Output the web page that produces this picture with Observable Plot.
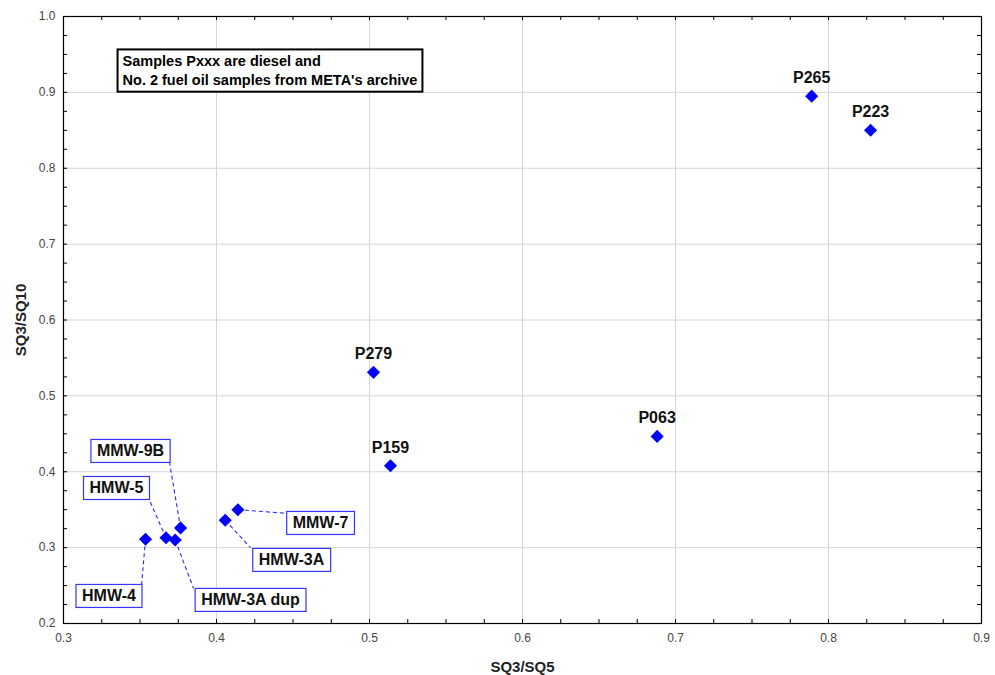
<!DOCTYPE html>
<html><head><meta charset="utf-8">
<script src="https://cdn.jsdelivr.net/npm/d3@7"></script>
<script src="https://cdn.jsdelivr.net/npm/@observablehq/plot@0.6"></script>
<style>body{margin:0;background:#fff;} #chart svg{font-family:"Liberation Sans",Arial,sans-serif;}</style>
</head><body><div id="chart"></div>
<script>
// ---- data ----
const samples = ["P265","P223","P279","P159","P063","HMW-4","HMW-5","HMW-3A dup","MMW-9B","HMW-3A","MMW-7"];
const sq3sq5  = [0.789, 0.8275, 0.5026, 0.5137, 0.688, 0.3536, 0.367, 0.373, 0.3765, 0.4057, 0.414];
const sq3sq10 = [0.895, 0.850, 0.531, 0.408, 0.4466, 0.311, 0.313, 0.310, 0.326, 0.336, 0.350];

// boxed (callout) labels: label anchor and leader end, in data units
const boxedNames  = ["MMW-9B","HMW-5","HMW-4","HMW-3A dup","HMW-3A","MMW-7"];
const boxedLabelX = [0.3438, 0.3346, 0.3297, 0.4222, 0.449, 0.468];
const boxedLabelY = [0.4269, 0.3781, 0.2358, 0.2306, 0.2833, 0.332];
const leaderEndX  = [0.3693, 0.3562, 0.351, 0.385, 0.4222, 0.4458];
const leaderEndY  = [0.4124, 0.3623, 0.2503, 0.2464, 0.300, 0.3452];

const xTicks = [0.3,0.4,0.5,0.6,0.7,0.8,0.9];
const yTicks = [0.2,0.3,0.4,0.5,0.6,0.7,0.8,0.9,1.0];
const xMinor = d3.range(25).map(i => +(0.3 + i*0.025).toFixed(3));
const yMinor = d3.range(33).map(i => +(0.2 + i*0.025).toFixed(3));

const xTitle = "SQ3/SQ5";
const yTitle = "SQ3/SQ10";
const noteText = "Samples Pxxx are diesel and\nNo. 2 fuel oil samples from META's archive";
const noteX = 0.3386, noteY = 0.9513;

// ---- build ----
const W = 995, H = 675, mL = 63, mR = 14, mT = 16, mB = 52;
const xDom = [0.3, 0.9], yDom = [0.2, 1.0];
const tickPx = 4;
const tlx = tickPx * (xDom[1]-xDom[0]) / (W - mL - mR);
const tly = tickPx * (yDom[1]-yDom[0]) / (H - mT - mB);

const pts = samples.map((s,i) => ({name:s, x:sq3sq5[i], y:sq3sq10[i]}));
const plain = pts.filter(d => !boxedNames.includes(d.name));
const boxes = boxedNames.map((n,i) => {
  const p = pts.find(d => d.name === n);
  return {name:n, px:p.x, py:p.y, lx:boxedLabelX[i], ly:boxedLabelY[i], ex:leaderEndX[i], ey:leaderEndY[i]};
});

const chart = Plot.plot({
  width: W, height: H,
  marginLeft: mL, marginRight: mR, marginTop: mT, marginBottom: mB,
  x: {domain: xDom},
  y: {domain: yDom},
  style: {background: "#fff", fontSize: "12px", color: "#444"},
  marks: [
    Plot.gridX(xTicks, {stroke: "#d6d6d6", strokeOpacity: 1}),
    Plot.gridY(yTicks, {stroke: "#d6d6d6", strokeOpacity: 1}),
    Plot.axisX(xTicks, {anchor: "bottom", tickSize: 0, tickPadding: 10, tickFormat: d3.format(".1f"), label: null, fill: "#444"}),
    Plot.axisY(yTicks, {anchor: "left", tickSize: 0, tickPadding: 8, tickFormat: d3.format(".1f"), label: null, fill: "#444"}),
    // inward minor ticks on all four sides
    Plot.ruleX(xMinor, {y1: yDom[0], y2: yDom[0] + tly, stroke: "#000"}),
    Plot.ruleX(xMinor, {y1: yDom[1], y2: yDom[1] - tly, stroke: "#000"}),
    Plot.ruleY(yMinor, {x1: xDom[0], x2: xDom[0] + tlx, stroke: "#000"}),
    Plot.ruleY(yMinor, {x1: xDom[1], x2: xDom[1] - tlx, stroke: "#000"}),
    Plot.frame({stroke: "#000", strokeWidth: 1.2}),
    Plot.text([xTitle], {text: d => d, frameAnchor: "bottom", dy: 48, lineAnchor: "bottom", fontSize: 15, fontWeight: "bold", fill: "#222"}),
    Plot.text([yTitle], {text: d => d, frameAnchor: "left", dx: -42, rotate: -90, textAnchor: "middle", lineAnchor: "middle", fontSize: 15, fontWeight: "bold", fill: "#222"}),
    Plot.link(boxes, {x1: "px", y1: "py", x2: "ex", y2: "ey", stroke: "#2a2aff", strokeWidth: 1.1, strokeDasharray: "4,3"}),
    Plot.dot(pts, {x: "x", y: "y", symbol: "diamond2", r: 5.9, fill: "#0000ff", stroke: "none"}),
    Plot.text(plain, {x: "x", y: "y", text: "name", dy: -13, lineAnchor: "bottom", fontSize: 16, fontWeight: "bold", fill: "#111"}),
    Plot.text(boxes, {x: "lx", y: "ly", text: "name", fontSize: 16, fontWeight: "bold", fill: "#111", lineAnchor: "middle"}),
    Plot.text([{t: noteText, x: noteX, y: noteY}], {x: "x", y: "y", text: "t", textAnchor: "start", lineAnchor: "top", lineHeight: 1.26, fontSize: 14.5, fontWeight: "bold", fill: "#000"})
  ]
});
document.getElementById("chart").append(chart);

function boxify(match, padX, padY, stroke, sw) {
  Array.from(chart.querySelectorAll("text")).filter(t => match(t.textContent)).forEach(t => {
    const b = t.getBBox();
    const r = document.createElementNS("http://www.w3.org/2000/svg", "rect");
    r.setAttribute("x", b.x - padX);
    r.setAttribute("y", b.y - padY);
    r.setAttribute("width", b.width + 2*padX);
    r.setAttribute("height", b.height + 2*padY);
    r.setAttribute("fill", "#fff");
    r.setAttribute("stroke", stroke);
    r.setAttribute("stroke-width", sw);
    const tr = t.getAttribute("transform");
    if (tr) r.setAttribute("transform", tr);
    t.parentNode.insertBefore(r, t);
  });
}
boxify(s => boxedNames.includes(s), 6, 3, "#3535ff", 1.2);
boxify(s => s.startsWith("Samples"), 5, 4, "#000", 2);
</script>
</body></html>
